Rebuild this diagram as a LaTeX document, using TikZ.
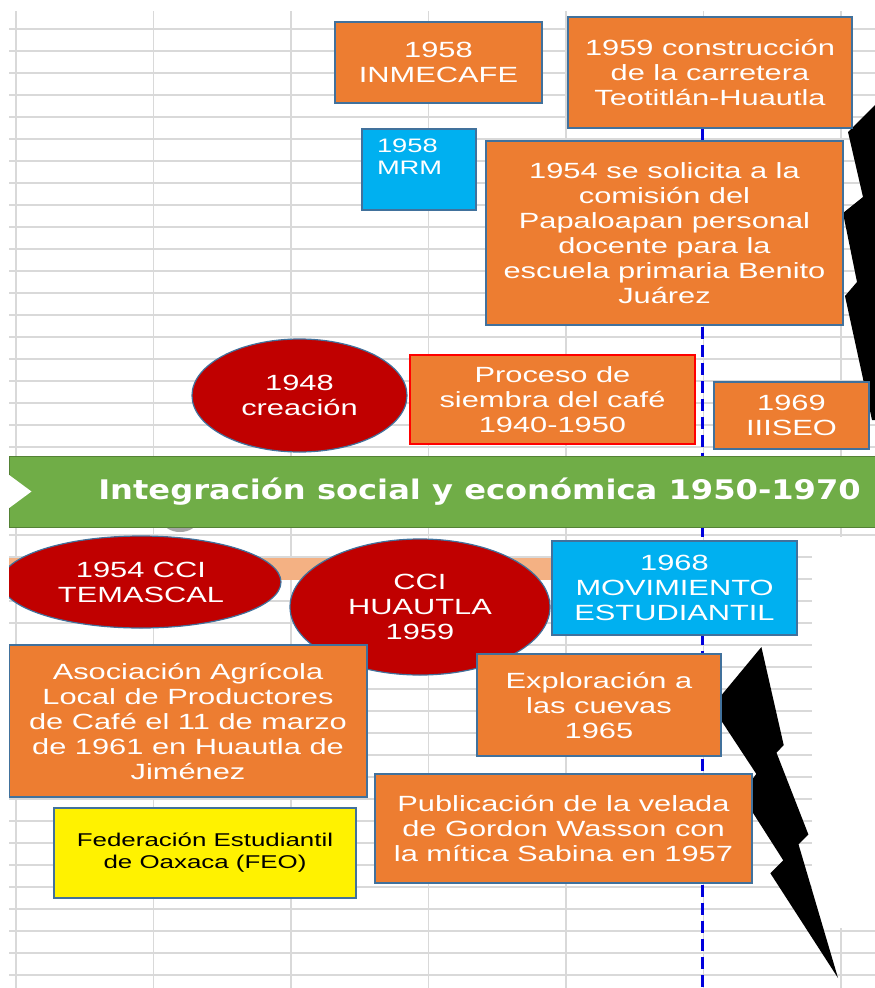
\documentclass[tikz,border=0pt]{standalone}
\usepackage{fontspec}
\setmainfont{Liberation Sans}
\newfontfamily\boxfont{Liberation Sans}[FakeStretch=1.4]
\newfontfamily\bannerfont{DejaVu Sans}[FakeStretch=1.19]
\usetikzlibrary{shapes.geometric}

\definecolor{cellline}{HTML}{D9D9D9}
\definecolor{boxorange}{HTML}{ED7D31}
\definecolor{boxedge}{HTML}{41719C}
\definecolor{boxblue}{HTML}{00B0F0}
\definecolor{darkred}{HTML}{C00000}
\definecolor{bannergreen}{HTML}{70AD47}
\definecolor{banneredge}{HTML}{548235}
\definecolor{salmon}{HTML}{F4B183}
\definecolor{timelineblue}{HTML}{0000DD}

\tikzset{
	gridline/.style={draw=cellline, line width=1.3pt},
	evbox/.style={draw=boxedge, line width=1.2pt, fill=boxorange, rectangle, inner sep=0pt, text=white, align=center, font=\boxfont\fontsize{22}{25}\selectfont},
	bluebox/.style={evbox, fill=boxblue},
	evellipse/.style={draw=boxedge, line width=1.2pt, fill=darkred, ellipse, inner sep=0pt, text=white, align=center, font=\boxfont\fontsize{22}{25}\selectfont},
	timeline/.style={draw=timelineblue, line width=3pt, dash pattern=on 12pt off 6pt},
	salmonbar/.style={draw=salmon, line width=22pt}
}

\begin{document}
\begin{tikzpicture}[x=1pt, y=-1pt]
	\useasboundingbox (0,0) rectangle (875,988);
	\clip (9,0) rectangle (875,988);
	
	\foreach \gx in {16,153.5,...,842} \draw[gridline] (\gx,11) -- (\gx,988);
	\foreach \gy in {29,51,...,988} \draw[gridline] (9,\gy) -- (875,\gy);
	\fill[white] (812,537) rectangle (875,928);
	
	\fill[black] (880,100) -- (848,132) -- (863,197) -- (843,213) -- (857,282) -- (845,296) -- (872,420) -- (890,420) -- (890,100) -- cycle;
	\fill[black] (761.4,647) -- (783.7,745.1) -- (776.5,752.7) -- (808.4,834.5) -- (798.5,844.3) -- (838,978) -- (770.4,873.3) -- (783.3,860.4) -- (741.3,794.6) -- (756.3,773.9) -- (712,706.6) -- cycle;
	\fill[gray!70] (180,521) ellipse [x radius=17pt, y radius=11pt];
	
	\node (carretera) at (710,72.5) [evbox, minimum width=284pt, minimum height=111pt] {1959 construcción\\de la carretera\\Teotitlán-Huautla};
	\coordinate (lineend) at (702.5,988);
	\draw[timeline] (carretera.south -| lineend) -- (lineend);
	
	\node (movimiento) at (674.5,588) [bluebox, minimum width=245pt, minimum height=94pt] {1968\\MOVIMIENTO\\ESTUDIANTIL};
	\coordinate (barstart) at (0,569);
	\draw[salmonbar] (barstart) -- (barstart -| movimiento.west);
	
	\node (inmecafe) at (438.5,62.5) [evbox, minimum width=207pt, minimum height=81pt] {1958\\INMECAFE};
	\node (mrm) at (419,169.5) [bluebox, minimum width=114pt, inner xsep=15pt, text width=84pt, align=left, text height=23pt, text depth=58pt, font=\boxfont\fontsize{19.5}{22}\selectfont] {1958\\MRM};
	\node (solicita) at (664.5,233) [evbox, minimum width=357pt, minimum height=184pt] {1954 se solicita a la\\comisión del\\Papaloapan personal\\docente para la\\escuela primaria Benito\\Juárez};
	
	\node (creacion) at (299.5,395.5) [evellipse, minimum width=215pt, minimum height=113pt] {1948\\creación};
	\node (siembra) at (552.5,399.5) [evbox, draw=red, minimum width=285pt, minimum height=89pt] {Proceso de\\siembra del café\\1940-1950};
	\node (iiiseo) at (791.5,415.5) [evbox, minimum width=155pt, minimum height=67pt] {1969\\IIISEO};
	
	\node (banner) at (479.5,491.5) [draw=banneredge, line width=1pt, fill=bannergreen, rectangle, minimum width=941pt, minimum height=71pt, text=white, font=\bannerfont\bfseries\fontsize{27}{30}\selectfont] {Integración social y económica 1950-1970};
	\fill[white] ([yshift=17pt]banner.west) -- ([xshift=23pt]banner.west) -- ([yshift=-17pt]banner.west) -- cycle;
	
	\node (temascal) at (141,582) [evellipse, minimum width=280pt, minimum height=92pt] {1954 CCI\\TEMASCAL};
	\node (huautla) at (420,607) [evellipse, minimum width=260pt, minimum height=136pt] {CCI\\HUAUTLA\\1959};
	
	\node (asociacion) at (188,721) [evbox, minimum width=358pt, minimum height=152pt] {Asociación Agrícola\\Local de Productores\\de Café el 11 de marzo\\de 1961 en Huautla de\\Jiménez};
	\node (feo) at (205,853) [evbox, fill=yellow, text=black, minimum width=302pt, minimum height=90pt, font=\boxfont\fontsize{18.5}{22}\selectfont] {Federación Estudiantil\\de Oaxaca (FEO)};
	\node (exploracion) at (599,705) [evbox, minimum width=244pt, minimum height=102pt] {Exploración a\\las cuevas\\1965};
	\node (publicacion) at (563.5,828.5) [evbox, minimum width=377pt, minimum height=109pt] {Publicación de la velada\\de Gordon Wasson con\\la mítica Sabina en 1957};
\end{tikzpicture}
\end{document}
